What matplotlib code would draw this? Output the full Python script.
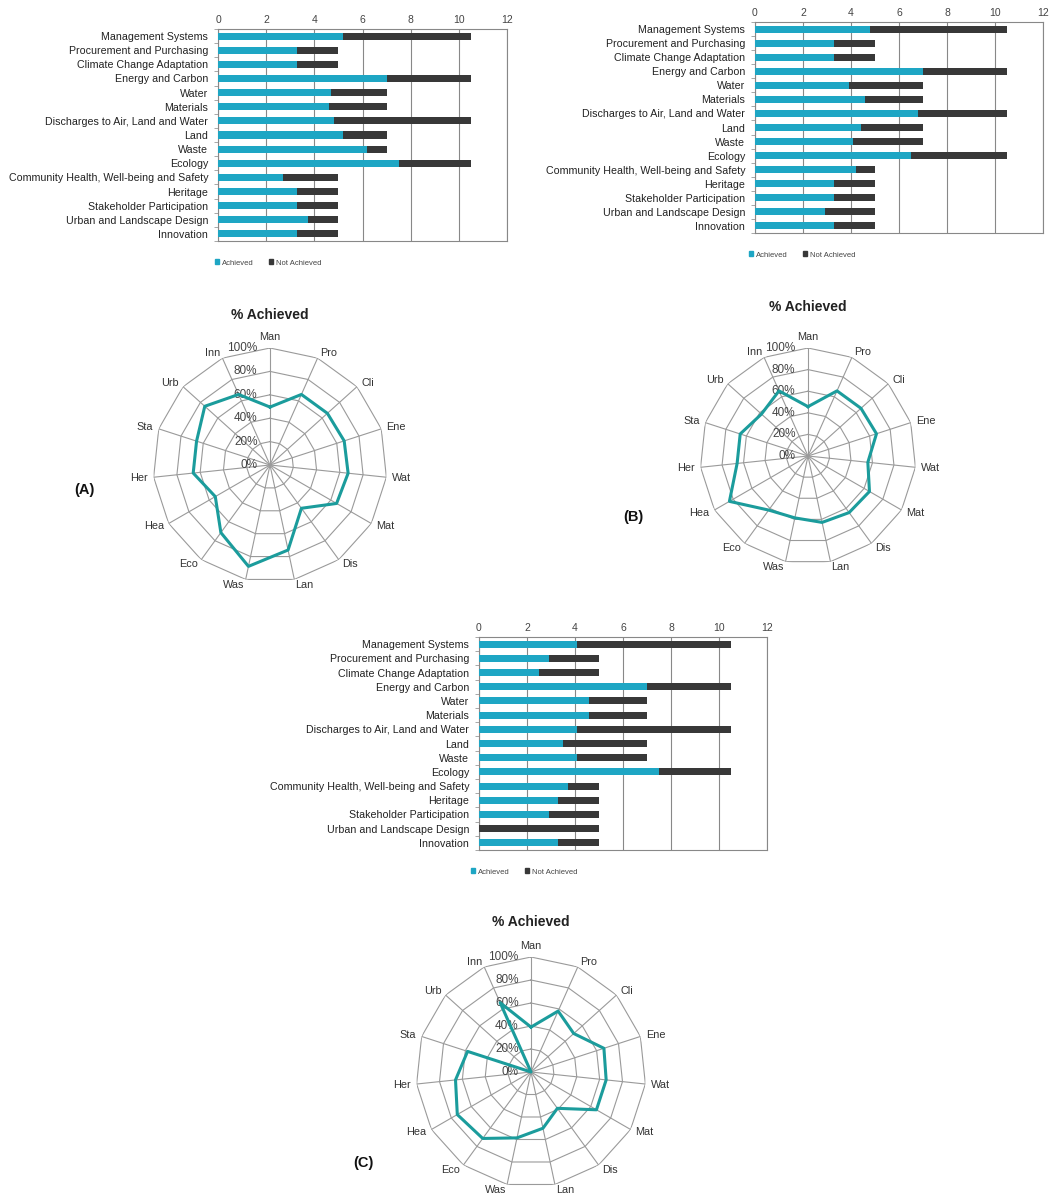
import numpy as np
import matplotlib.pyplot as plt
from matplotlib.patches import Patch

plt.rcParams['font.family'] = ['Liberation Sans', 'DejaVu Sans']

categories = ["Management Systems", "Procurement and Purchasing",
              "Climate Change Adaptation", "Energy and Carbon", "Water",
              "Materials", "Discharges to Air, Land and Water", "Land", "Waste",
              "Ecology", "Community Health, Well-being and Safety", "Heritage",
              "Stakeholder Participation", "Urban and Landscape Design",
              "Innovation"]
short_names = ["Man", "Pro", "Cli", "Ene", "Wat", "Mat", "Dis", "Lan", "Was",
               "Eco", "Hea", "Her", "Sta", "Urb", "Inn"]

# total available points per category
total = [10.5, 5, 5, 10.5, 7, 7, 10.5, 7, 7, 10.5, 5, 5, 5, 5, 5]

# achieved points
achieved_a = [5.2, 3.3, 3.3, 7.0, 4.7, 4.6, 4.8, 5.2, 6.2, 7.5, 2.7, 3.3, 3.3, 3.75, 3.3]
achieved_b = [4.8, 3.3, 3.3, 7.0, 3.9, 4.6, 6.8, 4.4, 4.1, 6.5, 4.2, 3.3, 3.3, 2.9, 3.3]
achieved_c = [4.1, 2.9, 2.5, 7.0, 4.6, 4.6, 4.1, 3.5, 4.1, 7.5, 3.7, 3.3, 2.9, 0.0, 3.3]

x_ticks = [0, 2, 4, 6, 8, 10, 12]
ring_levels = [0, 0.2, 0.4, 0.6, 0.8, 1.0]
ring_labels = ["0%", "20%", "40%", "60%", "80%", "100%"]

CYAN = "#1ea6c4"
DARK = "#383838"
TEAL = "#1b9c9c"
GRID = "#9a9a9a"

W, H = 1056, 1199
fig = plt.figure(figsize=(W / 100, H / 100), dpi=100)


def box(x0, y0, x1, y1, **kw):
    return fig.add_axes([x0 / W, 1 - y1 / H, (x1 - x0) / W, (y1 - y0) / H], **kw)


def bar_chart(rect, achieved, legend_xy):
    ax = box(*rect)
    y = np.arange(len(categories))
    ach = np.array(achieved)
    rest = np.array(total) - ach
    ax.barh(y, ach, height=0.5, color=CYAN, label="Achieved", zorder=3)
    ax.barh(y, rest, left=ach, height=0.5, color=DARK, label="Not Achieved", zorder=3)
    ax.set_xlim(0, 12)
    ax.set_ylim(len(categories) - 0.5, -0.5)
    ax.set_xticks(x_ticks)
    ax.xaxis.tick_top()
    ax.tick_params(axis='x', length=0, labelsize=7.5, labelcolor="#444444", pad=3)
    ax.set_yticks(y)
    ax.set_yticklabels(categories)
    ax.tick_params(axis='y', length=0, labelsize=7.7, labelcolor="#222222", pad=7)
    ax.set_yticks(np.arange(-0.5, len(categories)), minor=True)
    ax.tick_params(axis='y', which='minor', length=3, color="#999999")
    ax.grid(axis='x', color="#888888", linewidth=0.8, zorder=0)
    for s in ax.spines.values():
        s.set_color("#888888")
        s.set_linewidth(0.8)
    handles = [Patch(color=CYAN), Patch(color=DARK)]
    fig.legend(handles, ["Achieved", "Not Achieved"], loc='center',
               bbox_to_anchor=(legend_xy[0] / W, 1 - legend_xy[1] / H),
               ncol=2, frameon=False, fontsize=5.5, handlelength=0.6,
               handleheight=0.6, handletextpad=0.3, columnspacing=2.0,
               labelcolor="#444444")


def radar(center, radius, achieved, title_y, tag, tag_xy):
    cx, cy = center
    ax = box(cx - radius, cy - radius, cx + radius, cy + radius, projection='polar')
    n = len(short_names)
    theta = np.arange(n) * 2 * np.pi / n
    ax.set_theta_offset(np.pi / 2)
    ax.set_theta_direction(-1)
    ax.set_ylim(0, 1)
    ax.grid(False)
    ax.set_xticks([])
    ax.set_yticks([])
    ax.spines['polar'].set_visible(False)
    ax.patch.set_alpha(0)
    closed = np.append(theta, theta[0])
    for r in ring_levels[1:]:
        ax.plot(closed, np.full(n + 1, r), color=GRID, lw=0.8, zorder=1)
    for t in theta:
        ax.plot([t, t], [0, 1], color=GRID, lw=0.8, zorder=1)
    pct = np.array(achieved) / np.array(total)
    ax.plot(closed, np.append(pct, pct[0]), color=TEAL, lw=2.2, zorder=3)
    for t, name in zip(theta, short_names):
        s, c = np.sin(t), np.cos(t)
        if abs(s) < 0.1:
            ha, va = 'center', ('bottom' if c > 0 else 'top')
        else:
            ha, va = ('left' if s > 0 else 'right'), 'center'
        ax.annotate(name, xy=(t, 1), xytext=(4 * s, 4 * c),
                    textcoords='offset points', ha=ha, va=va, fontsize=7.8,
                    color="#333333", annotation_clip=False)
    for r, lab in zip(ring_levels, ring_labels):
        ax.annotate(lab, xy=(0, r), xytext=(-9, 0), textcoords='offset points',
                    ha='right', va='center', fontsize=8.5, color="#444444",
                    zorder=2)
    fig.text(cx / W, 1 - title_y / H, "% Achieved", ha='center', va='center',
             fontsize=10, fontweight='bold', color="#222222")
    fig.text(tag_xy[0] / W, 1 - tag_xy[1] / H, tag, ha='center', va='center',
             fontsize=10.5, fontweight='bold', color="#111111")


bar_chart((218, 29, 507, 241), achieved_a, (268, 263))
bar_chart((755, 22, 1043, 233), achieved_b, (802, 255))
bar_chart((479, 637, 767, 850), achieved_c, (524, 872))

radar((270, 465), 117, achieved_a, 315, "(A)", (84, 490))
radar((808, 456), 108, achieved_b, 307, "(B)", (633, 517))
radar((531, 1072), 115, achieved_c, 922, "(C)", (363, 1163))

fig.savefig("out.png", dpi=100)
